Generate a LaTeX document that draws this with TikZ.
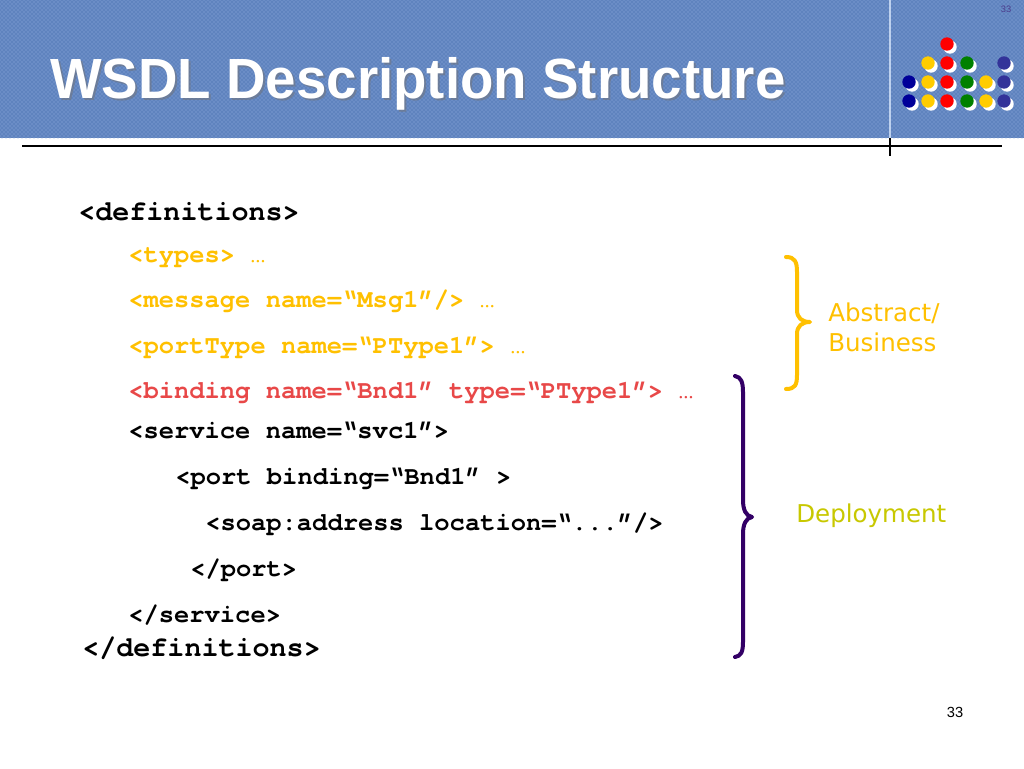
\documentclass[tikz,border=0pt]{standalone}
\usepackage{fontspec}
\setmainfont{Liberation Sans}
\newfontfamily\codefont{texgyrecursor}[Extension=.otf, UprightFont=*-regular, BoldFont=*-bold, Ligatures=NoCommon]
\newfontfamily\labfont{DejaVu Sans}
\newcommand\codedots{{\mdseries …}}
\usetikzlibrary{patterns}
\definecolor{hdrblue}{HTML}{5F83BE}
\definecolor{hdrlight}{HTML}{93B2E2}
\definecolor{codeyellow}{HTML}{FFC000}
\definecolor{codered}{HTML}{E84848}
\definecolor{bracepurple}{HTML}{330066}
\definecolor{deploygreen}{HTML}{C8C800}
\definecolor{dotblue}{HTML}{000099}
\definecolor{dotyellow}{HTML}{FFCC00}
\definecolor{dotred}{HTML}{FF0000}
\definecolor{dotgreen}{HTML}{008000}
\definecolor{dotpurple}{HTML}{333399}
\definecolor{pgpurple}{HTML}{4B3C8C}
\tikzset{
  codebig/.style={anchor=base west, inner sep=0pt, font=\codefont\bfseries\fontsize{21.3}{24}\selectfont},
  codeline/.style={anchor=base west, inner sep=0pt, font=\codefont\bfseries\fontsize{19.1}{22}\selectfont},
  sidelabel/.style={anchor=base west, inner sep=0pt, font=\labfont\fontsize{18.4}{22}\selectfont},
  bracestyle/.style={line width=3pt, line cap=round, line join=round},
  titletext/.style={anchor=base west, inner sep=0pt, xscale=0.965, transform shape, font=\bfseries\fontsize{42.5}{48}\selectfont},
}
\begin{document}
\begin{tikzpicture}[x=0.75pt,y=-0.75pt]
\useasboundingbox (0,0) rectangle (1024,768);
\fill[white] (0,0) rectangle (1024,768);
% header band
\fill[hdrblue] (0,0) rectangle (1024,138);
\fill[pattern=crosshatch dots, pattern color=hdrlight] (0,0) rectangle (1024,138);
\draw[hdrlight!60!white, line width=0.8pt] (890,0) -- (890,138);
\draw[black, line width=0.8pt] (890,138) -- (890,156);
\draw[black, line width=0.8pt] (22,146) -- (1002,146);
% title
\node[titletext, text=black!55, opacity=0.5] at (52,100) {WSDL Description Structure};
\node (title) [titletext, text=white] at (50,98) {WSDL Description Structure};
\node (pgtop) [inner sep=0pt, text=pgpurple, font=\fontsize{7}{8}\selectfont] at (1006,9) {33};
% dots
\foreach \x/\y/\c in {947/44/dotred,
  928/63/dotyellow, 947/63/dotred, 967/63/dotgreen, 1004/63/dotpurple,
  909/82/dotblue, 928/82/dotyellow, 947/82/dotred, 967/82/dotgreen, 986/82/dotyellow, 1004/82/dotpurple,
  909/101/dotblue, 928/101/dotyellow, 947/101/dotred, 967/101/dotgreen, 986/101/dotyellow, 1004/101/dotpurple}{
  \fill[white] (\x+3,\y+3) circle[radius=6.7];
  \fill[\c] (\x,\y) circle[radius=6.7];
}
% code
\node (defs) [codebig] at (78,220) {<definitions>};
\node (types) [codeline, text=codeyellow] at (128,262) {<types>};
\node (typesdots) [codeline, text=codeyellow] at (250,262) {\codedots};
\node (msg) [codeline, text=codeyellow] at (128,307) {<message name=“Msg1”/> \codedots};
\node (ptype) [codeline, text=codeyellow] at (128,353) {<portType name=“PType1”> \codedots};
\node (bind) [codeline, text=codered] at (128,398) {<binding name=“Bnd1” type=“PType1”> \codedots};
\node (svc) [codeline] at (128,438) {<service name=“svc1”>};
\node (port) [codeline] at (175,484) {<port binding=“Bnd1” >};
\node (soap) [codeline] at (205,530) {<soap:address location=“...”/>};
\node (eport) [codeline] at (190,576) {</port>};
\node (esvc) [codeline] at (128,622) {</service>};
\node (edefs) [codebig] at (82,656) {</definitions>};
% braces
\draw[bracestyle, codeyellow] (786,257) .. controls (795,257) and (797,262) .. (797,272) -- (797,310)
  .. controls (797,318) and (802,322) .. (810,322) .. controls (802,322) and (797,326) .. (797,334)
  -- (797,375) .. controls (797,385) and (795,389) .. (786,389);
\draw[bracestyle, bracepurple] (735,376) .. controls (741,377) and (743,382) .. (743,392) -- (743,500)
  .. controls (743,510) and (746,516) .. (752,517) .. controls (746,518) and (743,524) .. (743,534)
  -- (743,642) .. controls (743,652) and (741,656) .. (735,657);
% labels
\node (abs) [sidelabel, text=codeyellow] at (828,321) {Abstract/};
\node (bus) [sidelabel, text=codeyellow] at (828,351) {Business};
\node (dep) [sidelabel, text=deploygreen] at (796,522) {Deployment};
\node (pg) [inner sep=0pt, font=\fontsize{11}{13}\selectfont] at (955,712) {33};
\end{tikzpicture}
\end{document}
